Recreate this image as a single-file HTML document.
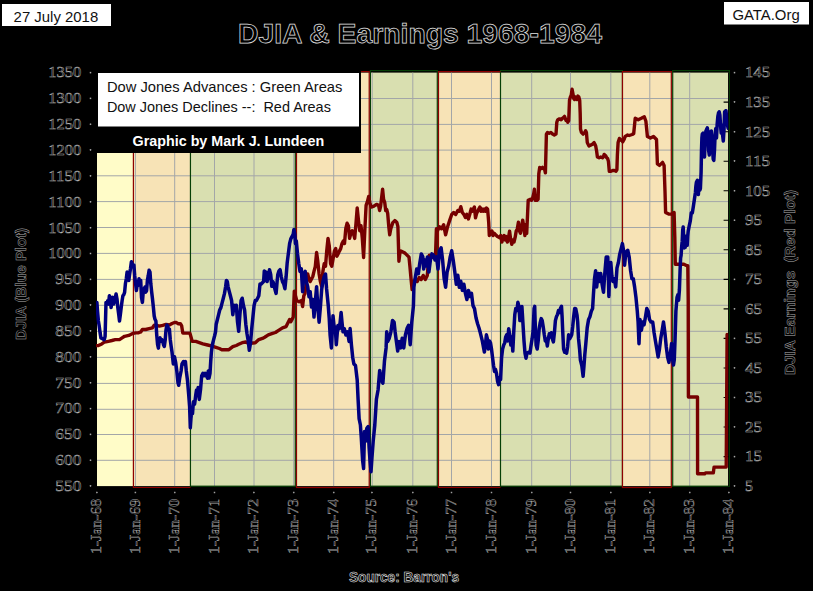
<!DOCTYPE html>
<html><head><meta charset="utf-8"><title>DJIA &amp; Earnings 1968-1984</title>
<style>html,body{margin:0;padding:0;background:#000;}body{width:813px;height:591px;overflow:hidden;font-family:"Liberation Sans",sans-serif;}svg{display:block;}</style>
</head><body>
<svg width="813" height="591" viewBox="0 0 813 591"><rect x="0" y="0" width="813" height="591" fill="#000"/><rect x="97" y="72.6" width="36.4" height="413.5" fill="#FFFCC8"/><rect x="133.4" y="72.6" width="57.1" height="413.5" fill="#F7E3B6"/><rect x="190.5" y="72.6" width="104.8" height="413.5" fill="#D9DFB0"/><rect x="295.3" y="72.6" width="74.3" height="413.5" fill="#F7E3B6"/><rect x="369.6" y="72.6" width="68.2" height="413.5" fill="#D9DFB0"/><rect x="437.8" y="72.6" width="62.7" height="413.5" fill="#F7E3B6"/><rect x="500.5" y="72.6" width="121.9" height="413.5" fill="#D9DFB0"/><rect x="622.4" y="72.6" width="49.2" height="413.5" fill="#F7E3B6"/><rect x="671.6" y="72.6" width="57.0" height="413.5" fill="#D9DFB0"/><path d="M135.4 72.6V486.1M174.7 72.6V486.1M214.5 72.6V486.1M254.0 72.6V486.1M293.7 72.6V486.1M333.7 72.6V486.1M372.2 72.6V486.1M412.8 72.6V486.1M451.5 72.6V486.1M491.5 72.6V486.1M531.7 72.6V486.1M570.5 72.6V486.1M610.8 72.6V486.1M649.8 72.6V486.1M689.7 72.6V486.1M97 98.5H728.6M97 124.4H728.6M97 150.1H728.6M97 175.8H728.6M97 201.6H728.6M97 227.5H728.6M97 253.4H728.6M97 279.4H728.6M97 305.3H728.6M97 331.3H728.6M97 357.4H728.6M97 383.4H728.6M97 409.3H728.6M97 434.5H728.6M97 460.3H728.6" stroke="#A3A6A8" stroke-width="1" fill="none"/><rect x="190.45" y="70.6" width="104.85" height="415.6" fill="none" stroke="#063F06" stroke-width="1.2"/><rect x="370.40" y="70.6" width="66.90" height="415.6" fill="none" stroke="#063F06" stroke-width="1.2"/><rect x="500.50" y="70.6" width="121.95" height="415.6" fill="none" stroke="#063F06" stroke-width="1.2"/><rect x="672.70" y="70.6" width="56.70" height="415.6" fill="none" stroke="#063F06" stroke-width="1.2"/><path d="M190.50 71.6H133.40V487.5H190.50" fill="none" stroke="#8E0000" stroke-width="1.2"/><rect x="296.50" y="71.6" width="72.70" height="415.9" fill="none" stroke="#8E0000" stroke-width="1.2"/><path d="M500.50 71.6H438.50V487.5H500.50" fill="none" stroke="#8E0000" stroke-width="1.2"/><rect x="622.45" y="71.6" width="48.85" height="415.9" fill="none" stroke="#8E0000" stroke-width="1.2"/><path d="M723.6 102.1H728.6M723.6 131.7H728.6M723.6 161.2H728.6M723.6 190.7H728.6M723.6 220.3H728.6M723.6 249.8H728.6M723.6 279.4H728.6M723.6 308.9H728.6M723.6 338.4H728.6M723.6 368.0H728.6M723.6 397.5H728.6M723.6 427.0H728.6M723.6 456.6H728.6" stroke="#000" stroke-width="1.1" fill="none"/><path d="M728.6 72.6V486.1" stroke="#000" stroke-width="1" fill="none"/><defs><clipPath id="pc"><rect x="96" y="60" width="632.3" height="440"/></clipPath></defs><polyline clip-path="url(#pc)" points="97.0,345.6 98.4,345.6 101.8,343.9 104.3,342.2 108.5,341.3 111.9,340.5 115.3,339.6 119.5,339.6 122.1,337.9 124.6,336.3 128.8,335.4 132.2,333.7 135.6,332.9 138.1,332.9 140.7,332.0 142.4,329.5 145.7,329.5 149.1,328.6 152.5,327.8 154.2,325.3 156.7,325.3 159.3,326.1 162.7,325.3 166.0,324.4 169.7,324.9 172.0,323.5 174.5,322.5 176.4,322.5 178.0,323.7 180.4,323.7 181.6,325.6 182.8,333.1 186.3,333.1 189.9,333.1 191.0,336.9 192.2,341.4 195.8,341.4 199.3,342.6 202.9,343.8 207.6,345.0 212.3,346.2 215.9,347.3 219.4,348.5 221.8,349.7 228.9,349.7 232.8,346.7 236.3,345.5 238.7,344.3 242.2,342.7 245.8,342.0 248.2,343.2 250.5,343.2 255.3,342.7 258.8,339.6 262.4,338.4 264.7,337.2 268.3,334.9 271.8,333.7 275.4,332.5 279.0,330.1 282.5,327.8 286.1,326.6 287.2,324.2 289.6,319.5 290.8,321.8 292.0,319.5 293.2,317.1 294.3,291.1 295.5,295.8 296.7,300.5 299.1,301.7 301.5,300.5 302.6,306.5 303.8,295.8 305.0,293.4 306.4,281.6 307.7,274.0 309.0,279.0 310.2,281.6 311.5,279.0 312.8,276.5 314.0,271.4 315.3,266.3 316.6,252.4 317.8,261.3 319.1,274.0 320.4,281.6 321.7,286.7 322.9,271.4 324.2,263.8 325.5,266.3 326.7,251.1 328.0,238.4 329.3,246.0 330.6,263.8 331.8,266.3 333.1,258.7 334.4,251.1 335.7,248.6 336.9,256.2 338.2,253.7 339.4,251.1 340.7,248.6 342.0,243.5 343.3,241.0 344.5,243.5 345.8,228.3 347.1,223.2 348.4,225.7 349.6,238.4 350.9,233.3 352.2,230.8 353.4,233.3 354.7,238.4 356.0,223.2 357.2,207.9 358.5,220.6 359.8,230.8 361.0,225.7 362.3,238.4 363.6,257.5 364.8,230.8 366.1,205.4 367.4,201.6 368.7,196.5 369.9,202.9 371.2,207.0 373.5,206.4 376.5,204.4 378.6,205.4 379.6,210.5 380.6,206.4 382.6,189.1 383.6,199.3 384.7,202.3 385.7,210.5 386.7,209.4 387.7,213.5 388.7,225.7 389.7,234.8 390.8,228.7 392.8,222.6 394.8,220.6 396.9,222.6 397.9,226.7 398.5,247.0 398.9,261.2 399.9,253.1 400.9,251.1 402.9,252.1 405.0,253.1 407.0,255.1 409.0,257.2 410.0,267.3 411.1,279.5 412.1,289.6 413.1,281.5 414.1,283.6 415.1,279.5 417.2,281.5 419.2,277.5 421.2,279.5 423.2,275.4 425.3,279.5 427.3,275.4 428.3,263.2 429.3,255.1 430.4,257.2 432.4,257.2 434.4,255.1 435.4,259.2 436.4,228.7 437.5,230.8 439.5,226.7 441.5,228.7 443.6,224.7 445.6,234.8 447.6,226.7 449.6,220.6 451.7,214.5 453.7,212.5 455.7,214.5 457.8,210.5 459.3,211.3 460.8,206.7 462.3,212.5 463.8,214.3 465.4,217.4 466.9,214.3 468.4,218.9 470.0,213.5 471.1,209.1 472.2,211.3 473.3,209.1 474.4,206.9 475.5,217.9 476.6,213.5 477.7,211.3 478.8,209.1 479.9,206.9 481.0,211.3 482.1,209.1 483.2,211.3 484.3,209.1 485.4,211.3 486.5,208.0 487.6,209.1 488.7,222.3 489.3,235.5 490.9,233.3 492.0,231.1 493.1,235.5 494.2,233.3 495.3,234.4 496.4,235.5 497.5,236.6 499.7,237.7 500.8,235.5 501.9,242.1 503.0,237.7 504.1,235.5 505.2,239.9 506.3,236.6 507.4,242.1 508.5,237.7 509.6,231.1 510.7,239.9 511.8,244.3 512.9,239.9 514.0,242.1 515.1,237.7 516.2,231.1 517.3,228.9 518.4,222.3 519.5,231.1 520.5,233.3 521.6,226.7 522.7,220.1 523.8,226.7 524.9,235.5 526.0,224.5 526.7,233.3 527.6,213.5 528.2,200.3 530.4,199.2 531.5,200.3 532.6,198.1 533.7,193.7 534.4,189.3 535.3,200.3 537.0,200.3 538.1,199.2 538.8,173.8 539.7,167.4 541.4,168.5 542.5,167.4 543.6,168.5 544.7,169.6 545.4,172.9 546.4,134.1 547.5,132.4 549.2,133.3 550.9,132.4 552.6,134.1 554.3,135.0 556.0,134.1 556.8,122.3 557.7,119.7 559.4,118.9 561.1,119.7 562.8,118.1 564.5,116.4 566.1,120.6 567.0,119.7 567.8,122.3 568.7,120.6 569.5,100.3 570.4,96.9 571.2,95.2 572.1,89.3 572.9,93.5 573.8,98.6 574.6,99.5 575.4,96.9 576.3,98.6 577.1,99.5 578.0,96.1 578.8,96.9 579.7,100.3 580.2,113.8 580.5,129.0 581.4,132.4 583.1,134.1 584.8,132.4 585.6,130.7 586.4,132.4 587.3,142.6 588.1,144.3 589.0,146.0 590.7,145.1 592.4,144.3 593.2,143.4 594.1,142.6 594.9,144.3 595.7,146.0 596.6,151.0 597.4,157.0 599.1,157.8 600.8,157.0 602.5,157.8 603.3,157.0 604.2,154.4 605.0,155.3 605.9,156.1 606.7,157.8 607.6,158.6 608.4,161.2 609.3,171.3 611.0,171.3 612.7,170.5 614.3,170.5 616.0,171.3 616.9,169.6 617.4,154.4 618.1,142.6 619.4,138.4 620.3,139.2 621.1,140.0 622.0,140.9 622.8,141.7 624.2,139.2 625.0,136.7 626.1,135.9 627.6,135.0 629.2,135.5 630.7,135.0 632.2,134.5 633.7,133.5 635.2,118.3 638.2,119.8 641.3,118.3 644.3,116.7 645.9,121.3 647.4,136.5 650.4,138.0 653.5,136.5 655.0,138.0 656.5,139.5 657.4,163.9 659.5,165.4 662.6,162.4 664.1,165.4 665.0,191.3 665.6,212.5 668.7,214.1 671.7,214.1 674.1,212.5 674.8,236.9 675.3,264.3 679.3,264.3 683.9,264.3 686.9,265.8 687.8,265.8 688.2,300.0 688.4,397.0 697.5,397.0 697.6,473.7 704.7,473.7 705.5,472.9 713.3,472.9 714.1,467.1 726.2,467.1 727.1,334.4" fill="none" stroke="#760000" stroke-width="3.4" stroke-linejoin="round" stroke-linecap="round"/><polyline clip-path="url(#pc)" points="96.9,302.4 97.5,310.9 98.4,321.0 99.2,326.1 100.1,332.9 100.9,337.9 102.6,338.8 104.3,339.6 105.1,336.3 106.0,302.4 106.8,304.1 107.7,300.7 108.5,304.1 109.4,295.7 110.2,297.4 111.1,307.5 111.9,300.7 112.8,297.4 113.6,304.1 114.5,300.7 115.3,297.4 116.1,294.0 117.0,299.0 117.8,307.5 118.7,314.3 119.5,321.0 120.4,314.3 121.2,307.5 122.1,300.7 122.9,295.7 123.7,294.8 124.6,292.3 125.4,283.8 126.3,278.8 127.1,272.0 128.0,275.4 128.8,280.4 129.7,273.7 130.5,268.6 131.4,261.8 132.2,263.5 133.1,266.9 133.9,265.2 134.7,275.4 135.6,283.8 136.4,290.6 137.3,283.8 138.1,285.5 139.0,278.8 139.8,283.8 140.7,280.4 141.5,297.4 142.4,302.4 143.2,292.3 144.0,288.9 144.9,287.2 145.7,292.3 146.6,290.6 147.4,280.4 148.3,275.4 149.1,270.3 150.0,272.0 150.8,283.8 151.7,292.3 152.5,299.0 153.4,307.5 154.2,316.0 155.0,319.3 155.9,321.0 156.7,334.6 157.6,344.7 158.4,348.1 159.3,339.6 160.1,337.9 161.0,341.3 161.8,339.6 162.7,341.3 163.5,344.7 164.3,346.4 165.2,340.0 166.0,330.0 166.9,325.0 167.7,326.0 168.6,330.0 169.4,329.0 170.3,340.0 171.1,346.0 172.0,352.0 173.3,363.9 174.5,356.8 175.6,362.0 176.8,371.0 178.0,382.8 178.7,385.2 179.7,378.0 181.1,371.0 182.0,363.9 183.5,361.5 184.4,364.0 185.4,361.5 186.3,371.0 187.5,380.5 188.7,394.7 189.6,406.5 190.3,427.8 191.0,418.0 191.7,411.2 192.5,413.6 193.4,401.8 194.6,404.1 195.8,394.7 196.5,389.9 197.4,394.7 198.1,387.6 199.3,399.4 200.5,389.9 201.7,375.7 202.9,373.4 204.1,375.7 205.2,373.4 206.4,375.7 207.6,378.1 208.3,371.0 209.0,378.1 210.0,373.4 210.7,361.5 211.4,352.1 212.3,345.0 213.5,340.2 214.7,335.5 215.5,332.0 216.2,324.2 217.4,319.5 218.6,314.7 219.7,310.0 220.9,307.6 222.1,302.9 223.3,298.2 224.5,293.4 225.7,286.3 226.4,280.4 227.3,281.6 228.0,286.3 229.2,291.1 230.4,295.8 231.6,300.5 232.8,314.7 234.0,305.3 235.1,310.0 236.3,305.3 237.5,321.8 238.7,331.3 239.9,314.7 241.1,300.5 242.2,298.2 243.4,305.3 244.6,310.0 245.8,324.2 247.0,333.7 248.2,340.8 249.3,350.3 250.5,343.2 251.7,329.0 252.9,317.1 254.1,305.3 255.3,300.5 256.4,300.5 257.6,298.2 258.8,295.8 260.0,284.0 261.2,284.0 262.4,282.8 263.6,281.6 264.3,270.9 265.2,276.8 266.2,272.1 267.1,281.6 268.3,276.8 269.5,269.7 270.7,274.5 271.8,286.3 273.0,281.6 274.2,286.3 275.4,291.1 276.1,293.4 277.1,281.6 277.8,274.5 279.0,270.9 280.1,269.7 281.3,276.8 282.5,281.6 283.7,283.9 284.9,288.7 286.1,276.8 287.2,262.6 288.4,253.2 289.6,243.7 290.8,238.9 292.0,236.6 293.2,234.2 293.9,229.5 294.8,234.2 295.5,243.7 296.3,241.0 297.5,253.7 298.8,263.8 300.0,271.4 301.3,268.9 302.6,291.7 303.9,274.0 305.2,271.4 306.4,281.6 307.7,286.7 309.0,296.8 310.2,291.7 311.5,307.0 312.8,299.4 314.0,317.1 315.3,301.9 316.6,286.7 317.8,307.0 319.1,322.2 320.4,307.0 321.7,289.2 322.9,281.6 324.2,276.5 325.5,274.0 326.6,289.0 328.2,305.0 329.2,318.0 330.1,335.0 331.4,347.9 333.0,315.7 334.0,325.4 335.3,328.6 336.3,344.7 337.9,325.4 339.5,328.6 341.1,312.5 342.0,322.2 343.0,331.8 344.3,328.6 345.9,335.0 347.5,331.8 349.1,341.4 350.1,328.6 351.4,344.7 352.7,357.5 353.9,364.0 355.5,365.6 357.2,380.0 358.1,399.3 359.1,418.6 360.4,425.0 361.3,437.9 362.6,460.4 363.6,468.5 364.5,431.5 365.8,441.1 366.8,428.3 368.1,426.7 369.1,447.6 370.0,460.4 371.0,471.7 372.0,457.2 373.2,441.1 374.8,425.0 376.4,399.3 378.1,389.7 379.7,370.4 381.3,380.0 382.9,383.2 384.5,360.7 386.1,347.9 386.7,331.8 387.7,341.4 389.3,338.2 390.9,331.8 392.5,320.5 394.1,322.2 395.1,331.8 396.4,341.4 397.7,351.1 399.0,341.4 400.6,347.9 402.2,338.2 403.8,347.9 405.4,335.0 407.0,328.6 408.6,325.4 410.2,344.7 411.8,322.2 413.4,306.1 413.9,287.3 415.2,278.2 416.7,269.1 418.3,273.7 419.8,263.0 421.3,253.9 422.8,256.9 423.7,269.1 424.9,260.0 426.2,266.0 427.4,256.9 428.9,272.1 430.4,260.0 431.9,253.9 433.5,255.4 435.0,260.0 436.5,256.9 438.0,269.1 439.5,250.8 441.1,247.8 442.6,260.0 444.1,278.2 445.6,287.3 447.1,272.1 448.7,266.0 450.2,256.9 451.7,250.8 453.2,260.0 454.8,272.1 456.3,284.3 457.8,275.2 459.3,287.3 460.8,281.2 462.4,290.4 463.9,284.3 465.4,293.4 466.9,299.5 468.5,290.4 470.0,296.5 471.5,293.4 473.0,305.6 474.5,308.6 476.0,317.8 477.6,323.8 479.0,328.0 480.3,332.8 482.3,340.9 484.4,352.1 485.4,345.0 486.4,334.8 487.4,338.9 488.4,349.0 489.4,340.9 490.5,342.9 491.5,349.0 492.5,357.2 493.5,365.3 494.5,371.4 495.5,369.3 496.5,373.4 497.6,381.5 498.6,384.6 499.6,377.5 500.6,379.5 501.6,357.2 502.6,349.0 503.7,345.0 504.7,342.9 505.7,336.9 506.7,334.8 507.7,340.9 508.7,328.7 509.7,334.8 510.8,345.0 511.8,336.9 512.8,351.1 513.8,330.8 514.8,314.5 515.8,308.4 516.9,310.5 517.9,302.3 518.9,306.4 519.9,320.6 520.9,314.5 521.9,306.4 522.9,322.6 524.0,340.9 525.0,353.1 526.0,358.2 527.0,353.1 529.0,352.1 530.0,353.1 531.1,345.0 532.1,338.9 533.1,330.8 534.1,308.4 534.7,306.4 535.1,320.6 536.1,345.0 537.2,349.0 538.2,340.9 539.2,328.7 540.2,322.6 541.2,318.6 542.2,320.6 543.2,326.7 544.3,334.8 545.3,340.9 546.3,338.9 547.3,346.0 548.3,338.9 549.3,333.8 550.4,336.9 551.4,332.8 552.4,338.9 553.4,341.9 554.4,332.8 555.4,320.6 556.5,316.5 557.5,314.5 558.5,310.5 559.5,312.5 560.5,308.4 561.5,306.4 562.1,316.5 562.7,330.8 563.6,349.0 564.6,352.1 565.6,351.1 566.6,353.1 567.6,347.0 568.6,334.8 569.6,338.9 570.7,336.9 571.7,334.8 572.7,326.7 573.7,316.5 574.7,308.4 575.7,308.6 577.0,315.0 577.7,322.1 578.5,338.4 579.6,349.2 580.4,360.1 581.8,365.5 583.1,376.3 584.0,365.5 584.8,354.7 585.8,343.8 587.2,327.6 588.6,319.4 589.9,316.7 591.3,311.3 592.6,308.6 593.4,295.0 594.5,278.8 595.6,270.7 596.7,286.9 597.5,278.8 598.3,273.4 599.4,281.5 600.7,273.4 602.1,284.2 603.5,292.3 604.8,273.4 606.2,257.1 607.0,265.2 607.8,257.1 608.9,296.4 609.7,267.9 610.8,262.5 611.9,276.1 612.9,281.5 614.3,278.8 615.7,286.9 617.0,267.9 618.4,262.5 619.7,254.4 621.1,249.0 622.4,243.6 623.8,251.7 624.6,265.2 625.4,257.1 626.5,251.7 627.8,250.3 629.2,257.1 630.6,270.7 631.9,278.8 633.3,278.8 634.6,286.9 636.0,297.8 637.3,311.3 638.1,322.1 639.0,343.8 640.0,319.4 641.4,330.3 642.8,322.1 644.1,324.8 645.5,316.7 646.8,308.6 648.2,311.3 649.5,319.4 650.9,322.0 652.7,321.9 654.1,332.7 655.4,340.8 656.8,348.9 658.1,357.0 659.5,348.9 660.8,338.1 662.2,330.0 663.5,321.9 664.9,332.7 666.2,346.2 667.6,357.0 668.9,362.4 670.3,354.3 671.6,343.5 672.7,359.7 673.5,365.1 674.3,359.7 675.1,338.1 675.9,311.1 677.0,297.6 677.8,294.9 678.6,300.3 679.4,290.0 680.1,270.0 680.6,258.0 681.1,255.4 681.7,246.0 682.2,241.2 682.7,230.0 683.2,227.0 683.7,238.0 684.2,248.0 684.7,236.0 685.2,247.3 685.7,238.0 686.2,244.0 686.7,236.0 687.2,245.3 687.7,236.0 688.2,231.1 689.2,226.0 690.3,220.9 691.3,212.8 692.3,213.0 693.3,206.7 694.3,200.0 695.4,192.5 695.9,186.0 696.4,182.3 697.4,180.3 697.9,190.0 698.4,194.5 698.9,184.0 699.4,183.0 699.9,190.0 700.4,188.4 701.1,172.2 701.5,150.0 701.9,138.0 702.3,134.0 703.1,133.0 703.8,150.0 704.5,157.0 705.2,140.0 705.9,131.0 706.6,129.6 707.3,127.8 708.0,132.0 708.6,150.0 709.3,155.0 710.0,140.0 710.6,132.0 711.3,131.0 712.0,140.0 712.6,150.0 713.2,159.0 713.8,160.4 714.5,150.0 715.1,135.0 715.8,128.4 716.5,138.0 717.2,123.7 717.9,116.0 718.5,113.0 719.2,111.8 719.9,115.0 720.5,125.0 721.2,133.0 721.9,125.0 722.6,135.0 723.3,141.0 724.0,130.0 724.6,112.0 725.3,111.0 726.0,110.7 726.7,118.0 727.4,125.0 728.2,128.4" fill="none" stroke="#00007E" stroke-width="3.5" stroke-linejoin="round" stroke-linecap="round"/><rect x="95" y="70" width="266" height="83" fill="#000"/><rect x="98" y="73" width="261" height="53.5" fill="#fff"/><text x="106.9" y="92" font-family="Liberation Sans" font-size="15" fill="#111" textLength="235.5" lengthAdjust="spacingAndGlyphs">Dow Jones Advances : Green Areas</text><text x="106.9" y="111.5" font-family="Liberation Sans" font-size="15" fill="#111" textLength="224" lengthAdjust="spacingAndGlyphs" xml:space="preserve">Dow Jones Declines --:  Red Areas</text><text x="132.6" y="145.5" font-family="Liberation Sans" font-size="14.2" font-weight="bold" fill="#fff" textLength="191.6" lengthAdjust="spacingAndGlyphs">Graphic by Mark J. Lundeen</text><rect x="2" y="4" width="109" height="22" fill="#fff"/><text x="13.6" y="21.7" font-family="Liberation Sans" font-size="14.5" fill="#111" textLength="84.6" lengthAdjust="spacingAndGlyphs">27 July 2018</text><rect x="724" y="2" width="85" height="22.5" fill="#fff"/><text x="732.4" y="19.7" font-family="Liberation Sans" font-size="14" fill="#111" textLength="67.3" lengthAdjust="spacingAndGlyphs">GATA.Org</text><text x="238" y="43.2" font-family="Liberation Sans" font-size="28.5" font-weight="bold" fill="#000" stroke="#e4e4e4" stroke-width="0.75" textLength="364" lengthAdjust="spacingAndGlyphs">DJIA &amp; Earnings 1968-1984</text><g font-family="Liberation Serif" font-size="15.5" fill="#000" stroke="#b8b8b8" stroke-width="0.45"><text x="81.3" y="77.4" text-anchor="end" textLength="33" lengthAdjust="spacingAndGlyphs">1350</text><rect x="90" y="72.1" width="1" height="1" fill="#888"/><text x="81.3" y="103.2" text-anchor="end" textLength="33" lengthAdjust="spacingAndGlyphs">1300</text><rect x="90" y="97.9" width="1" height="1" fill="#888"/><text x="81.3" y="129.1" text-anchor="end" textLength="33" lengthAdjust="spacingAndGlyphs">1250</text><rect x="90" y="123.8" width="1" height="1" fill="#888"/><text x="81.3" y="154.9" text-anchor="end" textLength="33" lengthAdjust="spacingAndGlyphs">1200</text><rect x="90" y="149.6" width="1" height="1" fill="#888"/><text x="81.3" y="180.8" text-anchor="end" textLength="33" lengthAdjust="spacingAndGlyphs">1150</text><rect x="90" y="175.5" width="1" height="1" fill="#888"/><text x="81.3" y="206.6" text-anchor="end" textLength="33" lengthAdjust="spacingAndGlyphs">1100</text><rect x="90" y="201.3" width="1" height="1" fill="#888"/><text x="81.3" y="232.5" text-anchor="end" textLength="33" lengthAdjust="spacingAndGlyphs">1050</text><rect x="90" y="227.2" width="1" height="1" fill="#888"/><text x="81.3" y="258.3" text-anchor="end" textLength="33" lengthAdjust="spacingAndGlyphs">1000</text><rect x="90" y="253.0" width="1" height="1" fill="#888"/><text x="81.3" y="284.2" text-anchor="end" textLength="26" lengthAdjust="spacingAndGlyphs">950</text><rect x="90" y="278.9" width="1" height="1" fill="#888"/><text x="81.3" y="310.0" text-anchor="end" textLength="26" lengthAdjust="spacingAndGlyphs">900</text><rect x="90" y="304.7" width="1" height="1" fill="#888"/><text x="81.3" y="335.8" text-anchor="end" textLength="26" lengthAdjust="spacingAndGlyphs">850</text><rect x="90" y="330.5" width="1" height="1" fill="#888"/><text x="81.3" y="361.7" text-anchor="end" textLength="26" lengthAdjust="spacingAndGlyphs">800</text><rect x="90" y="356.4" width="1" height="1" fill="#888"/><text x="81.3" y="387.5" text-anchor="end" textLength="26" lengthAdjust="spacingAndGlyphs">750</text><rect x="90" y="382.2" width="1" height="1" fill="#888"/><text x="81.3" y="413.4" text-anchor="end" textLength="26" lengthAdjust="spacingAndGlyphs">700</text><rect x="90" y="408.1" width="1" height="1" fill="#888"/><text x="81.3" y="439.2" text-anchor="end" textLength="26" lengthAdjust="spacingAndGlyphs">650</text><rect x="90" y="433.9" width="1" height="1" fill="#888"/><text x="81.3" y="465.1" text-anchor="end" textLength="26" lengthAdjust="spacingAndGlyphs">600</text><rect x="90" y="459.8" width="1" height="1" fill="#888"/><text x="81.3" y="490.9" text-anchor="end" textLength="26" lengthAdjust="spacingAndGlyphs">550</text><rect x="90" y="485.6" width="1" height="1" fill="#888"/><text x="745" y="77.4" textLength="25" lengthAdjust="spacingAndGlyphs">145</text><rect x="734" y="72.1" width="1" height="1" fill="#888"/><text x="745" y="106.9" textLength="25" lengthAdjust="spacingAndGlyphs">135</text><rect x="734" y="101.6" width="1" height="1" fill="#888"/><text x="745" y="136.5" textLength="25" lengthAdjust="spacingAndGlyphs">125</text><rect x="734" y="131.2" width="1" height="1" fill="#888"/><text x="745" y="166.0" textLength="25" lengthAdjust="spacingAndGlyphs">115</text><rect x="734" y="160.7" width="1" height="1" fill="#888"/><text x="745" y="195.5" textLength="25" lengthAdjust="spacingAndGlyphs">105</text><rect x="734" y="190.2" width="1" height="1" fill="#888"/><text x="745" y="225.1" textLength="17" lengthAdjust="spacingAndGlyphs">95</text><rect x="734" y="219.8" width="1" height="1" fill="#888"/><text x="745" y="254.6" textLength="17" lengthAdjust="spacingAndGlyphs">85</text><rect x="734" y="249.3" width="1" height="1" fill="#888"/><text x="745" y="284.2" textLength="17" lengthAdjust="spacingAndGlyphs">75</text><rect x="734" y="278.9" width="1" height="1" fill="#888"/><text x="745" y="313.7" textLength="17" lengthAdjust="spacingAndGlyphs">65</text><rect x="734" y="308.4" width="1" height="1" fill="#888"/><text x="745" y="343.2" textLength="17" lengthAdjust="spacingAndGlyphs">55</text><rect x="734" y="337.9" width="1" height="1" fill="#888"/><text x="745" y="372.8" textLength="17" lengthAdjust="spacingAndGlyphs">45</text><rect x="734" y="367.5" width="1" height="1" fill="#888"/><text x="745" y="402.3" textLength="17" lengthAdjust="spacingAndGlyphs">35</text><rect x="734" y="397.0" width="1" height="1" fill="#888"/><text x="745" y="431.8" textLength="17" lengthAdjust="spacingAndGlyphs">25</text><rect x="734" y="426.5" width="1" height="1" fill="#888"/><text x="745" y="461.4" textLength="17" lengthAdjust="spacingAndGlyphs">15</text><rect x="734" y="456.1" width="1" height="1" fill="#888"/><text x="745" y="490.9" textLength="8" lengthAdjust="spacingAndGlyphs">5</text><rect x="734" y="485.6" width="1" height="1" fill="#888"/></g><g font-family="Liberation Serif" font-size="15.5" fill="#000" stroke="#a8a8a8" stroke-width="0.45"><text transform="translate(101.2,554) rotate(-90)" textLength="55" lengthAdjust="spacingAndGlyphs">1-Jan-68</text><rect x="96.5" y="492" width="1" height="1" fill="#888"/><text transform="translate(139.6,554) rotate(-90)" textLength="55" lengthAdjust="spacingAndGlyphs">1-Jan-69</text><rect x="134.9" y="492" width="1" height="1" fill="#888"/><text transform="translate(178.9,554) rotate(-90)" textLength="55" lengthAdjust="spacingAndGlyphs">1-Jan-70</text><rect x="174.2" y="492" width="1" height="1" fill="#888"/><text transform="translate(218.7,554) rotate(-90)" textLength="55" lengthAdjust="spacingAndGlyphs">1-Jan-71</text><rect x="214.0" y="492" width="1" height="1" fill="#888"/><text transform="translate(258.2,554) rotate(-90)" textLength="55" lengthAdjust="spacingAndGlyphs">1-Jan-72</text><rect x="253.5" y="492" width="1" height="1" fill="#888"/><text transform="translate(297.9,554) rotate(-90)" textLength="55" lengthAdjust="spacingAndGlyphs">1-Jan-73</text><rect x="293.2" y="492" width="1" height="1" fill="#888"/><text transform="translate(337.9,554) rotate(-90)" textLength="55" lengthAdjust="spacingAndGlyphs">1-Jan-74</text><rect x="333.2" y="492" width="1" height="1" fill="#888"/><text transform="translate(376.4,554) rotate(-90)" textLength="55" lengthAdjust="spacingAndGlyphs">1-Jan-75</text><rect x="371.7" y="492" width="1" height="1" fill="#888"/><text transform="translate(417.0,554) rotate(-90)" textLength="55" lengthAdjust="spacingAndGlyphs">1-Jan-76</text><rect x="412.3" y="492" width="1" height="1" fill="#888"/><text transform="translate(455.7,554) rotate(-90)" textLength="55" lengthAdjust="spacingAndGlyphs">1-Jan-77</text><rect x="451.0" y="492" width="1" height="1" fill="#888"/><text transform="translate(495.7,554) rotate(-90)" textLength="55" lengthAdjust="spacingAndGlyphs">1-Jan-78</text><rect x="491.0" y="492" width="1" height="1" fill="#888"/><text transform="translate(535.9,554) rotate(-90)" textLength="55" lengthAdjust="spacingAndGlyphs">1-Jan-79</text><rect x="531.2" y="492" width="1" height="1" fill="#888"/><text transform="translate(574.7,554) rotate(-90)" textLength="55" lengthAdjust="spacingAndGlyphs">1-Jan-80</text><rect x="570.0" y="492" width="1" height="1" fill="#888"/><text transform="translate(615.0,554) rotate(-90)" textLength="55" lengthAdjust="spacingAndGlyphs">1-Jan-81</text><rect x="610.3" y="492" width="1" height="1" fill="#888"/><text transform="translate(654.0,554) rotate(-90)" textLength="55" lengthAdjust="spacingAndGlyphs">1-Jan-82</text><rect x="649.3" y="492" width="1" height="1" fill="#888"/><text transform="translate(693.9,554) rotate(-90)" textLength="55" lengthAdjust="spacingAndGlyphs">1-Jan-83</text><rect x="689.2" y="492" width="1" height="1" fill="#888"/><text transform="translate(733.2,554) rotate(-90)" textLength="55" lengthAdjust="spacingAndGlyphs">1-Jan-84</text><rect x="728.5" y="492" width="1" height="1" fill="#888"/></g><text transform="translate(25.5,340) rotate(-90)" font-family="Liberation Sans" font-weight="bold" font-size="14.5" fill="#000" stroke="#b0b0b0" stroke-width="0.45" textLength="112" lengthAdjust="spacingAndGlyphs">DJIA (Blue Plot)</text><text transform="translate(795,375) rotate(-90)" font-family="Liberation Sans" font-weight="bold" font-size="14.5" fill="#000" stroke="#b0b0b0" stroke-width="0.45" textLength="185" lengthAdjust="spacingAndGlyphs" xml:space="preserve">DJIA Earnings  (Red Plot)</text><text x="349" y="582" font-family="Liberation Sans" font-weight="bold" font-size="14.5" fill="#000" stroke="#e0e0e0" stroke-width="0.6" textLength="110" lengthAdjust="spacingAndGlyphs">Source: Barron&#39;s</text></svg>
</body></html>
